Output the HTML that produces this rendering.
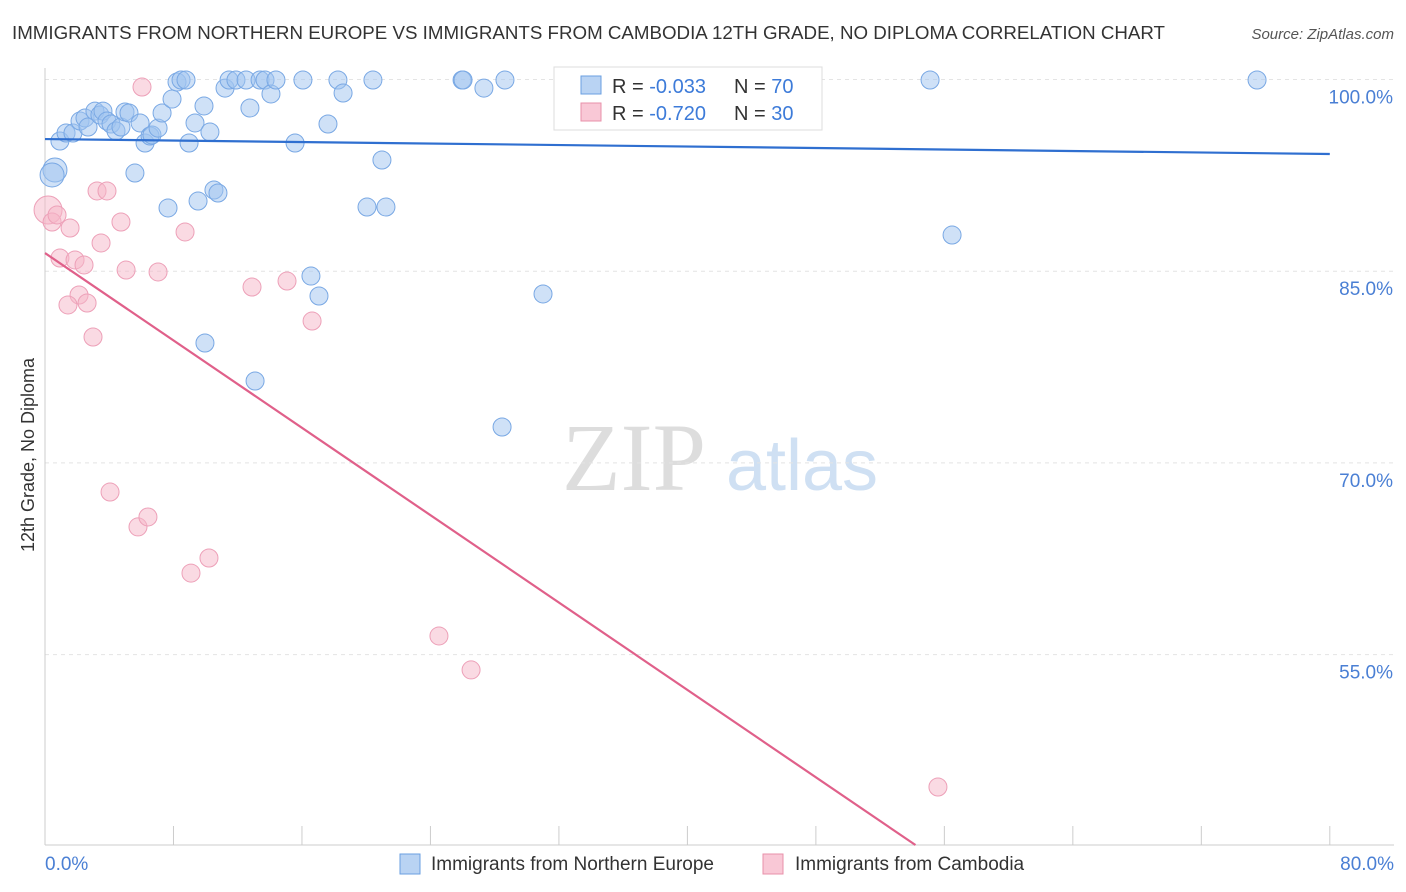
<!DOCTYPE html>
<html><head><meta charset="utf-8"><style>
body{margin:0;background:#fff;font-family:"Liberation Sans",sans-serif;}
svg{display:block}
</style></head><body>
<svg id="chart" width="1406" height="892">
<text x="12" y="39" font-size="18" fill="#333" textLength="1153" lengthAdjust="spacingAndGlyphs">IMMIGRANTS FROM NORTHERN EUROPE VS IMMIGRANTS FROM CAMBODIA 12TH GRADE, NO DIPLOMA CORRELATION CHART</text>
<text x="1394" y="39" font-size="15" fill="#555" font-style="italic" text-anchor="end">Source: ZipAtlas.com</text>
<text x="0" y="0" transform="translate(34,455) rotate(-90)" font-size="18" fill="#333" text-anchor="middle">12th Grade, No Diploma</text>
<g>
<text x="634" y="490" font-size="96" fill="#ddd" font-family="Liberation Serif,serif" text-anchor="middle">ZIP</text>
<text x="802" y="490" font-size="72" fill="#cfe0f3" text-anchor="middle">atlas</text>
</g>
<g id="grid"></g>
<g id="axes"></g>
<g id="marks"></g>
<g>
<rect x="554" y="67" width="268" height="63" fill="#fff" stroke="#ddd"/>
<rect x="581" y="76" width="20" height="18" fill="#b9d3f3" stroke="#6a9fe0"/>
<rect x="581" y="103" width="20" height="18" fill="#f9c8d6" stroke="#e890aa"/>
<text x="612" y="93" font-size="20" fill="#333">R = <tspan fill="#3d7bd9">-0.033</tspan></text>
<text x="734" y="93" font-size="20" fill="#333">N = <tspan fill="#3d7bd9">70</tspan></text>
<text x="612" y="120" font-size="20" fill="#333">R = <tspan fill="#3d7bd9">-0.720</tspan></text>
<text x="734" y="120" font-size="20" fill="#333">N = <tspan fill="#3d7bd9">30</tspan></text>
</g>
<g>
<rect x="400" y="854" width="20" height="20" fill="#b9d3f3" stroke="#6a9fe0"/>
<text x="431" y="870" font-size="19" fill="#333">Immigrants from Northern Europe</text>
<rect x="763" y="854" width="20" height="20" fill="#f9c8d6" stroke="#e890aa"/>
<text x="795" y="870" font-size="19" fill="#333">Immigrants from Cambodia</text>
</g>
</svg>
<script>
const yTicks=[100,85,70,55];
const yTickLabels=["100.0%","85.0%","70.0%","55.0%"];
const xTickLabels=["0.0%","80.0%"];
const blueX=[0.62,0.44,0.93,1.31,1.74,2.18,2.49,2.68,3.11,3.42,3.61,3.86,4.11,4.42,4.73,4.98,5.23,5.92,6.23,6.54,6.66,7.04,7.29,5.60,7.66,7.91,8.22,8.47,8.78,8.97,9.34,9.53,9.90,9.96,10.27,10.52,10.77,11.21,11.46,11.89,12.52,12.76,13.08,13.39,13.70,14.07,14.38,15.57,16.06,16.56,17.06,17.62,18.24,18.56,20.05,20.42,20.98,21.23,25.97,26.03,27.33,28.46,28.64,31.01,32.94,55.11,56.48,75.47];
const blueY=[92.92,92.53,95.19,95.81,95.81,96.75,96.99,96.28,97.53,97.22,97.53,96.75,96.52,95.97,96.28,97.46,97.38,96.60,95.03,95.58,95.66,96.20,97.38,92.68,89.95,98.47,99.80,99.96,99.96,95.03,96.60,90.49,97.93,79.38,95.89,91.35,91.12,99.33,99.96,99.96,99.96,97.77,76.41,99.96,99.96,98.87,99.96,95.03,99.96,84.62,83.06,96.52,99.96,98.94,90.02,99.96,93.70,90.02,99.96,99.96,99.33,72.81,99.96,83.22,100.0,99.96,87.83,99.96];
const pinkX=[0.19,0.44,0.75,0.93,1.56,1.87,2.12,2.43,1.43,2.62,2.99,3.24,3.49,3.86,4.05,4.73,5.05,5.79,6.04,6.41,7.04,8.72,9.09,10.21,12.89,15.07,16.63,24.53,26.53,55.60];
const pinkY=[89.79,88.85,89.40,86.03,88.38,85.88,83.14,85.49,82.36,82.51,79.85,91.28,87.21,91.28,67.72,88.85,85.09,64.99,99.41,65.77,84.94,88.07,61.38,62.56,83.76,84.23,81.10,56.46,53.80,44.64];
const blueTrend=[0,95.34,80,94.17];
const pinkTrend=[0,86.42,54.2,40.1];

const NS="http://www.w3.org/2000/svg";
function xs(v){return 45+v*16.06;}
function ys(v){return 79.5+(100-v)*12.78;}
function mk(tag,attrs,parent){const e=document.createElementNS(NS,tag);for(const k in attrs)e.setAttribute(k,attrs[k]);parent.appendChild(e);return e;}
const grid=document.getElementById('grid'),axes=document.getElementById('axes'),marks=document.getElementById('marks');
yTicks.forEach((t,i)=>{
  const l=mk('line',{x1:45,x2:1394,y1:ys(t),y2:ys(t),stroke:'#e4e4e4','stroke-dasharray':'4,4'},grid);
  
  
  const tx=mk('text',{x:1393,y:ys(t)+24,'font-size':19,fill:'#4a7fd4','text-anchor':'end'},axes);
  tx.textContent=yTickLabels[i];
  
  
});
const xa=mk('line',{x1:45,x2:1394,y1:845,y2:845,stroke:'#ccc'},axes);


const ya=mk('line',{x1:45,x2:45,y1:68,y2:845,stroke:'#ccc'},axes);


for(let i=0;i<=10;i++){
  const t=mk('line',{x1:xs(i*8),x2:xs(i*8),y1:826,y2:845,stroke:'#ccc'},axes);
  
  
}
[[0,'start',45],[80,'end',1394]].forEach((a,i)=>{
  const tx=mk('text',{x:a[2],y:870,'font-size':19,fill:'#4a7fd4','text-anchor':a[1]},axes);
  tx.textContent=xTickLabels[i];
  
  
});
blueX.forEach((x,i)=>{
  const c=mk('circle',{cx:xs(x),cy:ys(blueY[i]),r:(i<2?12:9),fill:'rgba(160,195,240,0.5)',stroke:'#79a8e4','stroke-width':1},marks);
  
  
});
pinkX.forEach((x,i)=>{
  const c=mk('circle',{cx:xs(x),cy:ys(pinkY[i]),r:(i==0?14:9),fill:'rgba(246,182,200,0.5)',stroke:'#eda0b8','stroke-width':1},marks);
  
  
});
const bl=mk('line',{x1:xs(blueTrend[0]),y1:ys(blueTrend[1]),x2:xs(blueTrend[2]),y2:ys(blueTrend[3]),stroke:'#2f6fd0','stroke-width':2.2},marks);


const pl=mk('line',{x1:xs(pinkTrend[0]),y1:ys(pinkTrend[1]),x2:xs(pinkTrend[2]),y2:ys(pinkTrend[3]),stroke:'#e0608a','stroke-width':2.2},marks);


</script>
</body></html>
